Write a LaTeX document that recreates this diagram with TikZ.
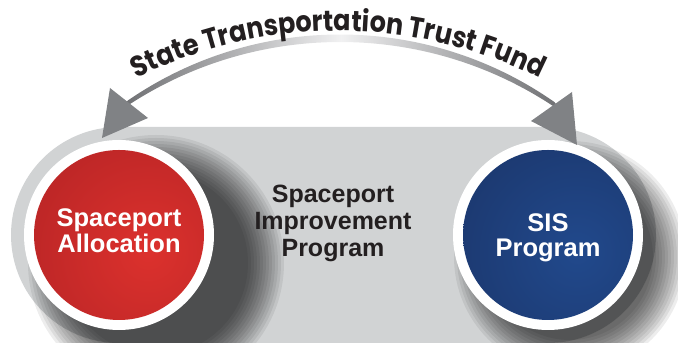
\documentclass[tikz,border=0pt]{standalone}
\usepackage{fontspec}
\setmainfont{Liberation Sans}
\newfontfamily\arcfont{Poppins}[FakeStretch=0.88]
\usetikzlibrary{decorations.text}
\definecolor{bandgray}{HTML}{D1D3D4}
\definecolor{headgray}{HTML}{808285}
\definecolor{arcdark}{HTML}{6D6E71}
\definecolor{arclight}{HTML}{F1F1F2}
\definecolor{redD}{HTML}{9C1B20}
\definecolor{redB}{HTML}{DC312D}
\definecolor{blueD}{HTML}{172955}
\definecolor{blueB}{HTML}{21498C}
\definecolor{txtdark}{HTML}{231F20}
\tikzset{
  circtext/.style={anchor=base, text=white, font=\bfseries\fontsize{25.5}{26}\selectfont, inner sep=0pt},
  midtext/.style={anchor=base, text=txtdark, font=\bfseries\fontsize{25}{26}\selectfont, inner sep=0pt},
  shadowring/.style={fill=black, opacity=0.07},
  arrowhead/.style={fill=headgray}
}
\begin{document}
\begin{tikzpicture}[x=1pt,y=1pt]
\useasboundingbox (0,0) rectangle (678,347);
% band
\fill[bandgray] (119,4) -- (548,4) arc[start angle=-90,end angle=90,radius=108pt] -- (119,220) arc[start angle=90,end angle=270,radius=108pt] -- cycle;
% shadows
\begin{scope}
\clip (0,4) rectangle (678,220);
\foreach \k in {0,...,12} { \fill[shadowring] (156,84) circle[radius={(128-3*\k)*1pt}]; }
\foreach \k in {0,...,11} { \fill[shadowring] (570,90) circle[radius={(116-3*\k)*1pt}]; }
\end{scope}
% red circle
\fill[white] (119,112) circle[radius=95pt];
\begin{scope}
\clip (119,112) circle[radius=85pt];
\shade[inner color=redB, outer color=redD] (148,95) circle[radius=250pt];
\end{scope}
% blue circle
\fill[white] (548,112) circle[radius=95pt];
\begin{scope}
\clip (548,112) circle[radius=85pt];
\shade[inner color=blueB, outer color=blueD] (577,95) circle[radius=250pt];
\end{scope}
% circle texts
\node[circtext] (allocA) at (119,120) {Spaceport};
\node[circtext] (allocB) at (119,94) {Allocation};
\node[circtext] (sisA) at (548,115) {SIS};
\node[circtext] (sisB) at (548,90) {Program};
% middle text
\node[midtext] (midA) at (333,144) {Spaceport};
\node[midtext] (midB) at (333,117) {Improvement};
\node[midtext] (midC) at (333,90) {Program};
% arc band
\shade[left color=arcdark, right color=arcdark, middle color=arclight]
  ([shift={(124.6:374pt)}]340,-61.5) arc[start angle=124.6, end angle=55, radius=374pt]
  -- ([shift={(55:386.5pt)}]340,-81.5) arc[start angle=55, end angle=124.6, radius=386.5pt] -- cycle;
% arrowheads
\fill[arrowhead] (102,209) -- (110,259) -- (148,229) -- cycle;
\fill[arrowhead] (577,202) -- (572,255) -- (531,226) -- cycle;
% arc text
\path[decorate, decoration={text along path, text align=center,
  text={|\arcfont\bfseries\fontsize{29}{29}\selectfont\color{txtdark}|State Transportation Trust Fund}}]
  ([shift={(117:453pt)}]338,-137) arc[start angle=117, end angle=63, radius=453pt];
\end{tikzpicture}
\end{document}
